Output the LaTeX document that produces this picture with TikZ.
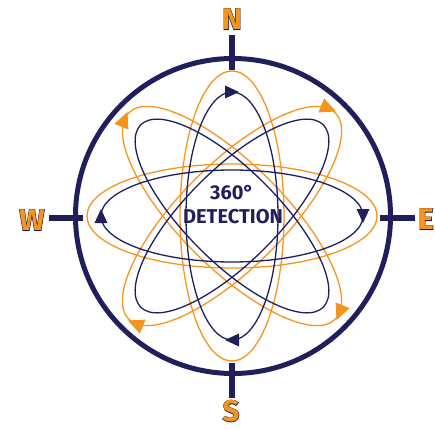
\documentclass[tikz,border=0pt]{standalone}
\usepackage{fontspec}
\setmainfont{Fira Sans}
\newfontfamily\dirfont{Fira Sans Bold}
\newfontfamily\diroutline{Fira Sans Bold}[FakeBold=3]
\usetikzlibrary{decorations.markings}
\definecolor{navy}{RGB}{33,30,92}
\definecolor{orng}{RGB}{247,148,29}
\newcommand\navyhead{\fill[navy] (7pt,0pt) -- (-7pt,6.5pt) -- (-7pt,-6.5pt) -- cycle;}
\newcommand\ornghead{\fill[orng] (8pt,0pt) -- (-8pt,7.5pt) -- (-8pt,-7.5pt) -- cycle;}
\tikzset{
  navyorb/.style={draw=navy, line width=1.3pt},
  orngorb/.style={draw=orng, line width=1.3pt},
  navyarrows/.style={postaction={decorate, decoration={markings,
      mark=at position 0.25 with {\navyhead},
      mark=at position 0.75 with {\navyhead}}}},
  orngarrows/.style={postaction={decorate, decoration={markings,
      mark=at position 0.238 with {\ornghead},
      mark=at position 0.738 with {\ornghead}}}},
  ring/.style={draw=navy, line width=5pt},
  tick/.style={draw=navy, line width=6.5pt},
  dirletter/.style={inner sep=0pt, text=orng, font=\dirfont\fontsize{30}{30}\selectfont},
  dirshadow/.style={inner sep=0pt, text=navy!70!black, font=\diroutline\fontsize{30}{30}\selectfont},
  labeltext/.style={inner sep=0pt, text=navy, font=\dirfont\fontsize{20}{24}\selectfont}
}
\begin{document}
\begin{tikzpicture}[x=1pt,y=1pt]
\useasboundingbox (-232,-212) rectangle (203,216);
% orange orbits
\draw[orngorb] (0,52) arc[start angle=90, end angle=-270, x radius=145pt, y radius=52pt];
\begin{scope}[rotate=90]
\draw[orngorb] (0,52) arc[start angle=90, end angle=-270, x radius=145pt, y radius=52pt];
\end{scope}
\begin{scope}[rotate=45]
\draw[orngorb, orngarrows] (0,52) arc[start angle=90, end angle=-270, x radius=146pt, y radius=52pt];
\end{scope}
\begin{scope}[rotate=-45]
\draw[orngorb, orngarrows] (0,52) arc[start angle=90, end angle=-270, x radius=146pt, y radius=52pt];
\end{scope}
% navy orbits
\draw[navyorb, navyarrows] (0,46) arc[start angle=90, end angle=-270, x radius=131pt, y radius=46pt];
\begin{scope}[rotate=90]
\draw[navyorb, navyarrows] (0,46) arc[start angle=90, end angle=-270, x radius=124pt, y radius=46pt];
\end{scope}
\begin{scope}[rotate=45]
\draw[navyorb] (0,46) arc[start angle=90, end angle=-270, x radius=129pt, y radius=46pt];
\end{scope}
\begin{scope}[rotate=-45]
\draw[navyorb] (0,46) arc[start angle=90, end angle=-270, x radius=129pt, y radius=46pt];
\end{scope}
% ring
\node[circle, ring, minimum size=315pt, inner sep=0pt] (ringc) at (1,0) {};
% ticks
\coordinate (nA) at (0,181); \coordinate (nB) at (0,146);
\coordinate (sA) at (0,-147); \coordinate (sB) at (0,-182);
\coordinate (wA) at (-183,-2); \coordinate (wB) at (-149,-2);
\coordinate (eA) at (148,-2); \coordinate (eB) at (183,-2);
\draw[tick] (nA) -- (nB);
\draw[tick] (sA) -- (sB);
\draw[tick] (wA) -- (wB);
\draw[tick] (eA) -- (eB);
% letters
\node[dirshadow] (Nsh) at (0,197) {N};
\node[dirletter] (N) at (0,197) {N};
\node[dirshadow] (Ssh) at (-1,-195) {S};
\node[dirletter] (S) at (-1,-195) {S};
\node[dirshadow] (Wsh) at (-200,-4) {W};
\node[dirletter] (W) at (-200,-4) {W};
\node[dirshadow] (Esh) at (194,-3) {E};
\node[dirletter] (E) at (194,-3) {E};
% label
\node[labeltext] (deg) at (0,23) {360°};
\node[labeltext] (det) at (1,-1) {DETECTION};
\end{tikzpicture}
\end{document}
